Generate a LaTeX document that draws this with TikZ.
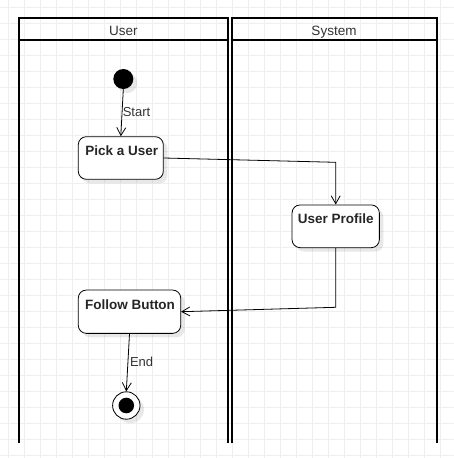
\documentclass[tikz,border=0pt]{standalone}
\usepackage{fontspec}
\setmainfont{Liberation Sans}
\usetikzlibrary{arrows.meta,shadows}
\definecolor{gridc}{HTML}{EFEFEF}
\definecolor{txt}{HTML}{333333}
\begin{document}
\begin{tikzpicture}[x=1pt,y=-1pt,
  lane/.style={line width=2pt, draw=black},
  hdr/.style={font=\fontsize{13.5}{16}\selectfont, text=txt, inner sep=0pt, anchor=base},
  act/.style={draw=black, line width=0.8pt, fill=white, rounded corners=8pt,
    drop shadow={shadow xshift=4pt, shadow yshift=-4pt, fill=black, opacity=0.09}},
  acttext/.style={font=\bfseries\fontsize{13.5}{16}\selectfont, text=black!85, inner sep=0pt},
  elbl/.style={font=\fontsize{13}{15}\selectfont, text=txt, inner sep=0pt, anchor=west},
  flow/.style={draw=black, line width=0.8pt, -{Straight Barb[length=8pt,width=9pt,line width=0.8pt]}},
  initial/.style={circle, fill=black, minimum size=20pt, inner sep=0pt,
    drop shadow={shadow xshift=4pt, shadow yshift=-4pt, fill=black, opacity=0.09}},
  final/.style={circle, draw=black, line width=0.8pt, fill=white, minimum size=27.4pt, inner sep=0pt,
    drop shadow={shadow xshift=4pt, shadow yshift=-4pt, fill=black, opacity=0.09}},
  finaldot/.style={circle, fill=black, minimum size=15.6pt, inner sep=0pt}
]
\useasboundingbox (0,0) rectangle (454,458);
\fill[white] (0,0) rectangle (454,458);
% grid
\foreach \i in {0,...,28} {
  \draw[gridc, line width=1pt] ({8.5+16*\i},0) -- ({8.5+16*\i},458);
  \draw[gridc, line width=1pt] (0,{7.3+16*\i}) -- (454,{7.3+16*\i});
}
% swimlanes
\draw[lane] (19,443.3) -- (19,17.7) -- (227.5,17.7) -- (227.5,443.3);
\draw[lane] (19,40) -- (227.5,40);
\draw[lane] (231.5,443.3) -- (231.5,17.7) -- (436.5,17.7) -- (436.5,443.3);
\draw[lane] (231.5,40) -- (436.5,40);
\node[hdr] (userhdr) at (123.3,35.2) {User};
\node[hdr] (syshdr) at (334,35.2) {System};
% nodes
\node[initial] (start) at (123.3,79) {};
\node[act, minimum width=85pt, minimum height=42.6pt] (pick) at (120.8,158) {};
\node[acttext] (pickt) at (121.7,150.7) {Pick a User};
\node[act, minimum width=87.3pt, minimum height=42.7pt] (prof) at (335.7,226.3) {};
\node[acttext] (proft) at (335.8,218.3) {User Profile};
\node[act, minimum width=102.4pt, minimum height=43.3pt] (follow) at (129.5,311.7) {};
\node[acttext] (followt) at (130,304.3) {Follow Button};
\node[final] (end) at (126.3,405.5) {};
\node[finaldot] (enddot) at (end.center) {};
% edges
\coordinate (b1) at (335.7,162.3);
\coordinate (b2) at (335.7,307.3);
\draw[flow] (start.south) -- (pick.north);
\node[elbl] (startlbl) at (122.6,111.7) {Start};
\draw[flow] (pick.east) -- (b1) -- (prof.north);
\draw[flow] (prof.south) -- (b2) -- (follow.east);
\draw[flow] (follow.south) -- (end.north);
\node[elbl] (endlbl) at (129.8,362.3) {End};
\end{tikzpicture}
\end{document}
